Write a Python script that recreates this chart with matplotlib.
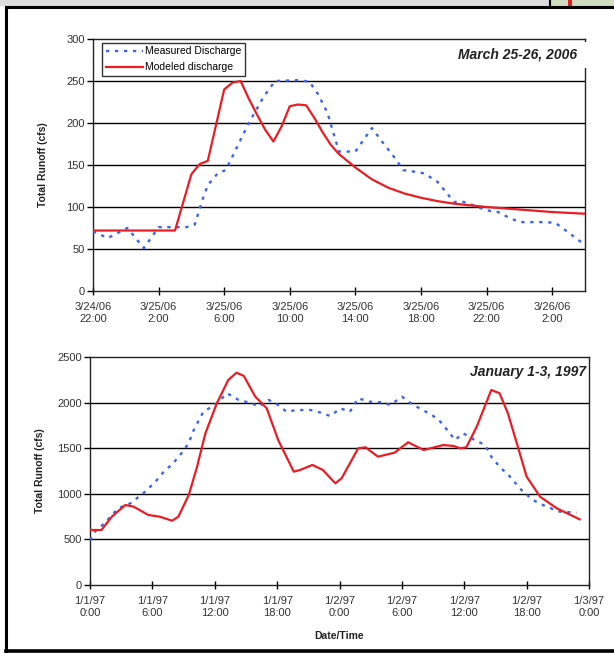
import matplotlib
matplotlib.use("Agg")
import matplotlib.pyplot as plt
from matplotlib.patches import Rectangle
from matplotlib.lines import Line2D

plt.rcParams['font.family'] = ['Liberation Sans', 'DejaVu Sans']

# ---------------- data: March 25-26, 2006 (hours since 3/24/06 22:00) ----------------
mar_meas_h = [0, 0.9, 1.5, 2.1, 3.1, 4.0, 5.7, 6.2, 6.7, 7.0, 7.6, 8.1, 8.8, 9.5, 10.4,
              11.1, 12.6, 13.2, 13.7, 14.3, 14.6, 15.0, 16.0, 17.0, 17.7, 18.5, 18.9, 19.6,
              20.2, 21.0, 21.6, 22.0, 22.6, 23.2, 24.0, 24.7, 25.3, 26.0, 27.6, 28.2, 28.9,
              29.5, 30.0]
mar_meas_v = [71, 63, 69, 75, 51, 76, 76, 79, 110, 126, 140, 144, 172, 200, 231,
              250, 251, 249, 235, 212, 192, 166, 166, 194, 176, 156, 144, 142,
              140, 130, 116, 106, 106, 102, 96, 94, 88, 82, 82, 81, 71,
              62, 55]
mar_mod_h = [0, 5, 6, 6.5, 7, 8, 8.5, 9, 9.5, 10, 10.5, 11, 11.5, 12, 12.5, 13, 13.5,
             14, 14.5, 15, 16, 17, 18, 19, 20, 21, 22, 24, 26, 28, 30]
mar_mod_v = [72, 72, 139, 151, 155, 240, 248, 250, 229, 210, 192, 178, 196, 220, 222, 221, 206,
             189, 174, 163, 147, 133, 123, 116, 111, 107, 104, 100, 97, 94, 92]
mar_ticks = [0, 4, 8, 12, 16, 20, 24, 28]
mar_ticklabels = ["3/24/06\n22:00", "3/25/06\n2:00", "3/25/06\n6:00", "3/25/06\n10:00",
                  "3/25/06\n14:00", "3/25/06\n18:00", "3/25/06\n22:00", "3/26/06\n2:00"]

# ---------------- data: January 1-3, 1997 (hours since 1/1/97 0:00) ----------------
jan_meas_h = [0, 0.6, 1.4, 2.7, 3.9, 5.3, 6.3, 7.1, 8.0, 8.8, 9.5, 9.9, 10.9, 12.0, 13.2,
              14.3, 15.6, 16.2, 17.2, 18.1, 18.9, 19.9, 21.2, 22.2, 23.1, 24.1, 25.0, 25.8,
              26.9, 28.1, 28.9, 30.0, 30.8, 31.7, 32.9, 33.7, 34.5, 35.1, 35.9, 37.0, 38.0,
              38.6, 39.4, 40.4, 41.5, 42.6, 43.9, 45.2, 46.8]
jan_meas_v = [493, 603, 676, 841, 896, 1023, 1133, 1243, 1334, 1444, 1554, 1681, 1900, 1974, 2102,
              2029, 1992, 1955, 2029, 1974, 1900, 1919, 1919, 1890, 1853, 1937, 1900, 2047,
              2010, 2003, 1974, 2065, 1999, 1937, 1864, 1791, 1681, 1590, 1663, 1590, 1535,
              1407, 1297, 1188, 1042, 932, 859, 804, 793]
jan_mod_h = [0, 1.1, 2.1, 3.4, 4.2, 5.6, 6.7, 7.9, 8.5, 9.5, 10.3, 11.1, 12.2, 13.3, 14.1,
             14.8, 15.9, 17.0, 18.1, 19.6, 20.2, 21.4, 22.4, 23.6, 24.2, 25.8, 26.5, 27.7,
             29.3, 30.6, 32.1, 34.0, 35.0, 35.6, 36.2, 37.2, 38.6, 39.4, 40.2, 41.2, 42.0,
             43.3, 44.9, 47.1]
jan_mod_v = [603, 603, 749, 877, 859, 768, 749, 705, 749, 987, 1297, 1663, 1992, 2248, 2328,
             2292, 2065, 1937, 1590, 1243, 1261, 1316, 1261, 1115, 1170, 1499, 1510, 1407,
             1451, 1565, 1480, 1535, 1524, 1499, 1510, 1736, 2138, 2102, 1882, 1499, 1188,
             968, 841, 720]
jan_ticks = [0, 6, 12, 18, 24, 30, 36, 42, 48]
jan_ticklabels = ["1/1/97\n0:00", "1/1/97\n6:00", "1/1/97\n12:00", "1/1/97\n18:00",
                  "1/2/97\n0:00", "1/2/97\n6:00", "1/2/97\n12:00", "1/2/97\n18:00",
                  "1/3/97\n0:00"]

BLUE = '#4064e4'
RED = '#ea1c24'
W, H = 614, 654

fig = plt.figure(figsize=(W / 100, H / 100), dpi=100)
fig.patch.set_facecolor('white')


def px_axes(l, t, r, b):
    return fig.add_axes([l / W, 1 - b / H, (r - l) / W, (b - t) / H])


def style(ax, ymax, ystep, xticks, xlabels, xmax):
    ax.set_xlim(0, xmax)
    ax.set_ylim(0, ymax)
    ax.set_yticks(range(0, ymax + 1, ystep))
    ax.set_xticks(xticks)
    ax.set_xticklabels(xlabels, fontsize=8, color='#333333', linespacing=1.25)
    ax.tick_params(axis='y', labelsize=8, labelcolor='#333333', direction='out', length=4,
                   width=1, pad=2)
    ax.tick_params(axis='x', direction='inout', length=6, width=1, pad=5)
    for s in ax.spines.values():
        s.set_color('#222222')
        s.set_linewidth(1.0)
    for yv in range(ystep, ymax, ystep):
        ax.axhline(yv, color='black', lw=1.0, zorder=1)
    ax.set_ylabel("Total Runoff (cfs)", fontsize=7.5, fontweight='bold', color='#222222')


MEAS_STYLE = dict(color=BLUE, lw=1.7, ls=(0, (1.4, 2.4)))
MOD_STYLE = dict(color=RED, lw=1.6)

# ---------------- top chart ----------------
ax1 = px_axes(93, 39, 585, 291)
style(ax1, 300, 50, mar_ticks, mar_ticklabels, 30)
ax1.plot(mar_meas_h, mar_meas_v, label='Measured Discharge', zorder=3, **MEAS_STYLE)
ax1.plot(mar_mod_h, mar_mod_v, label='Modeled discharge', zorder=4, **MOD_STYLE)
ax1.yaxis.set_label_coords(-0.092, 0.5)
leg = ax1.legend(loc='upper left', bbox_to_anchor=(0.018, 0.985), borderaxespad=0,
                 fontsize=7.5, frameon=True, fancybox=False, handlelength=3.6,
                 handletextpad=0.15, borderpad=0.35, labelspacing=0.55)
leg.get_frame().set_edgecolor('black')
leg.get_frame().set_linewidth(1.0)
leg.set_zorder(6)
ax1.add_patch(Rectangle((0.726, 0.885), 0.29, 0.103, transform=ax1.transAxes,
                        facecolor='white', edgecolor='none', clip_on=False, zorder=5))
ax1.text(0.984, 0.94, "March 25-26, 2006", transform=ax1.transAxes, ha='right', va='center',
         fontsize=10, fontweight='bold', fontstyle='italic', color='#222222', zorder=7)

# ---------------- bottom chart ----------------
ax2 = px_axes(90, 357, 589, 585)
style(ax2, 2500, 500, jan_ticks, jan_ticklabels, 48)
ax2.plot(jan_meas_h, jan_meas_v, zorder=3, **MEAS_STYLE)
ax2.plot(jan_mod_h, jan_mod_v, zorder=4, **MOD_STYLE)
ax2.yaxis.set_label_coords(-0.09, 0.5)
ax2.text(0.994, 0.934, "January 1-3, 1997", transform=ax2.transAxes, ha='right', va='center',
         fontsize=10, fontweight='bold', fontstyle='italic', color='#222222', zorder=7)
ax2.set_xlabel("Date/Time", fontsize=7.5, fontweight='bold', color='#222222', labelpad=9)

# ---------------- screenshot frame ----------------
fig.add_artist(Rectangle((0, 1 - 6 / H), 550 / W, 6 / H, transform=fig.transFigure,
                         facecolor='#dcdcdc', edgecolor='none'))
fig.add_artist(Rectangle((550 / W, 1 - 6 / H), 64 / W, 6 / H, transform=fig.transFigure,
                         facecolor='#cfdcc0', edgecolor='none'))
fig.add_artist(Rectangle((568 / W, 1 - 6 / H), 4 / W, 6 / H, transform=fig.transFigure,
                         facecolor='#e02020', edgecolor='none'))
fig.add_artist(Line2D([550 / W, 550 / W], [1, 1 - 6 / H], transform=fig.transFigure,
                      color='black', lw=1.5))
fig.add_artist(Line2D([6 / W, 1.0], [1 - 7 / H, 1 - 7 / H], transform=fig.transFigure,
                      color='black', lw=2.2))
fig.add_artist(Line2D([6 / W, 6 / W], [1 - 7 / H, 1 - 651 / H], transform=fig.transFigure,
                      color='black', lw=2.2))
fig.add_artist(Line2D([6 / W, 1.0], [1 - 651 / H, 1 - 651 / H], transform=fig.transFigure,
                      color='black', lw=2.6))

fig.savefig("out.png", dpi=100)
